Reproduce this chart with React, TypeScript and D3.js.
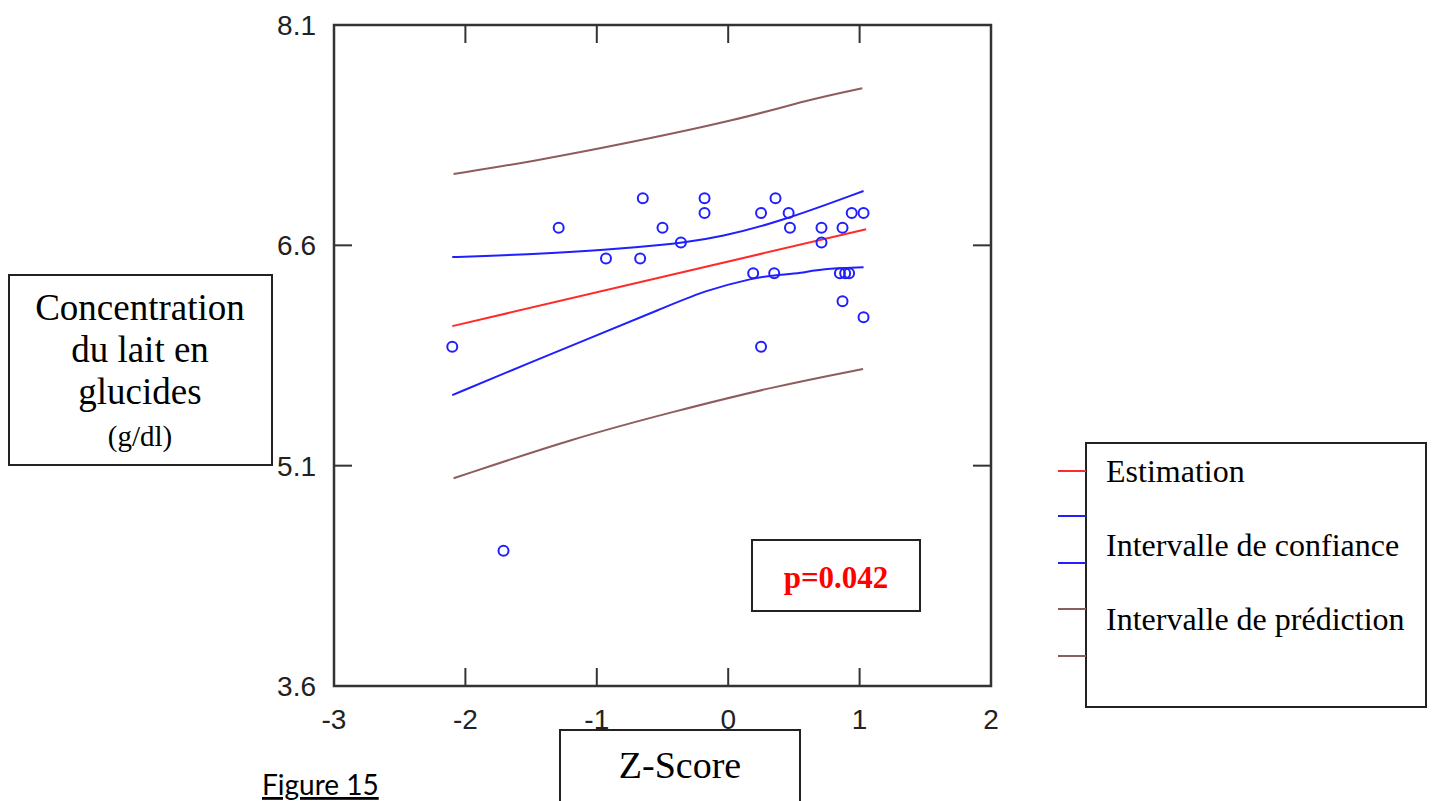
import React from "react";
import * as d3 from "d3";

// Observations
const zScores = [-2.10, -1.71, -1.29, -0.93, -0.67, -0.65, -0.50, -0.36, -0.18, -0.18, 0.19, 0.25, 0.25, 0.35, 0.36, 0.46, 0.47, 0.71, 0.71, 0.87, 0.85, 0.89, 0.92, 0.87, 0.94, 1.03, 1.03];
const glucides = [5.91, 4.52, 6.72, 6.51, 6.51, 6.92, 6.72, 6.62, 6.92, 6.82, 6.41, 6.82, 5.91, 6.41, 6.92, 6.82, 6.72, 6.72, 6.62, 6.72, 6.41, 6.41, 6.41, 6.22, 6.82, 6.82, 6.11];

// Estimation line
const estX = [-2.10, 1.05];
const estY = [6.05, 6.71];

// Confidence interval
const ciUpX = [-2.10, -1.85, -1.31, -0.96, -0.69, -0.52, -0.36, -0.06, 0.39, 1.03];
const ciUpY = [6.52, 6.527, 6.548, 6.568, 6.589, 6.602, 6.616, 6.657, 6.759, 6.97];
const ciLoX = [-2.10, -1.65, -0.34, -0.21, 0.19, 0.39, 0.55, 0.71, 1.03];
const ciLoY = [5.58, 5.75, 6.23, 6.28, 6.38, 6.40, 6.41, 6.44, 6.45];

// Prediction interval
const piUpX = [-2.09, -1.50, -0.77, 0.09, 0.60, 1.02];
const piUpY = [7.086, 7.169, 7.295, 7.458, 7.589, 7.669];
const piLoX = [-2.09, -1.175, -0.416, 0.344, 1.026];
const piLoY = [5.014, 5.287, 5.468, 5.638, 5.758];

const xTicks = [-3, -2, -1, 0, 1, 2];
const yTicks = [3.6, 5.1, 6.6, 8.1];
const legendItems = ["Estimation", "Intervalle de confiance", "Intervalle de prédiction"];
const yLabelLines = ["Concentration", "du lait en", "glucides"];
const yLabelUnit = "(g/dl)";
const xLabel = "Z-Score";
const pText = "p=0.042";
const figText = "Figure 15";

const RED = "#ff2a2a";
const BLUE = "#1f1fff";
const BROWN = "#8e5c5c";

export default function App() {
  const left = 334, right = 991, top = 25, bottom = 686;
  const x = d3.scaleLinear().domain([-3, 2]).range([left, right]);
  const y = d3.scaleLinear().domain([3.6, 8.1]).range([bottom, top]);
  const line = d3.line<[number, number]>().x(d => x(d[0])).y(d => y(d[1]));
  const smooth = d3.line<[number, number]>().x(d => x(d[0])).y(d => y(d[1])).curve(d3.curveBasis);
  const zip = (a: number[], b: number[]) => a.map((v, i) => [v, b[i]] as [number, number]);
  const tickLen = 18;
  const serif = "'Liberation Serif', 'Times New Roman', serif";
  const sans = "'Liberation Sans', Arial, sans-serif";
  const legendLineYs = [471, 516, 563, 609, 656];
  const legendColors = [RED, BLUE, BLUE, BROWN, BROWN];

  return (
    <svg width={1433} height={801} style={{ position: "absolute", left: 0, top: 0, display: "block", background: "#fff" }}>
      {/* curves */}
      <path d={smooth(zip(piUpX, piUpY)) || ""} fill="none" stroke={BROWN} strokeWidth={2} />
      <path d={smooth(zip(piLoX, piLoY)) || ""} fill="none" stroke={BROWN} strokeWidth={2} />
      <path d={smooth(zip(ciUpX, ciUpY)) || ""} fill="none" stroke={BLUE} strokeWidth={2} />
      <path d={smooth(zip(ciLoX, ciLoY)) || ""} fill="none" stroke={BLUE} strokeWidth={2} />
      <path d={line(zip(estX, estY)) || ""} fill="none" stroke={RED} strokeWidth={2} />
      {/* points */}
      {zScores.map((z, i) => (
        <circle key={i} cx={x(z)} cy={y(glucides[i])} r={5} fill="none" stroke={BLUE} strokeWidth={2} />
      ))}
      {/* frame */}
      <rect x={left} y={top} width={right - left} height={bottom - top} fill="none" stroke="#333" strokeWidth={2.5} />
      {xTicks.slice(1, -1).map(t => (
        <g key={"xt" + t}>
          <line x1={x(t)} x2={x(t)} y1={bottom} y2={bottom - tickLen} stroke="#333" strokeWidth={2} />
          <line x1={x(t)} x2={x(t)} y1={top} y2={top + tickLen} stroke="#333" strokeWidth={2} />
        </g>
      ))}
      {yTicks.slice(1, -1).map(t => (
        <g key={"yt" + t}>
          <line x1={left} x2={left + tickLen} y1={y(t)} y2={y(t)} stroke="#333" strokeWidth={2} />
          <line x1={right} x2={right - tickLen} y1={y(t)} y2={y(t)} stroke="#333" strokeWidth={2} />
        </g>
      ))}
      {xTicks.map(t => (
        <text key={"xl" + t} x={x(t)} y={729} textAnchor="middle" fontFamily={sans} fontSize={28} fill="#222">
          {t < 0 ? "-" + Math.abs(t) : String(t)}
        </text>
      ))}
      {yTicks.map(t => (
        <text key={"yl" + t} x={316} y={y(t) + 10} textAnchor="end" fontFamily={sans} fontSize={28} fill="#222">
          {t.toFixed(1)}
        </text>
      ))}
      {/* y label box */}
      <rect x={9} y={275} width={263} height={190} fill="#fff" stroke="#222" strokeWidth={2} />
      {yLabelLines.map((s, i) => (
        <text key={s} x={140} y={320 + i * 42} textAnchor="middle" fontFamily={serif} fontSize={37} fill="#000">{s}</text>
      ))}
      <text x={140} y={446} textAnchor="middle" fontFamily={serif} fontSize={29} fill="#000">{yLabelUnit}</text>
      {/* x label box */}
      <rect x={560} y={730} width={240} height={80} fill="#fff" stroke="#222" strokeWidth={2} />
      <text x={680} y={778} textAnchor="middle" fontFamily={serif} fontSize={38} fill="#000">{xLabel}</text>
      {/* figure caption */}
      <text x={262} y={795} fontFamily="Lato, 'Open Sans', sans-serif" fontSize={28} fill="#000" textDecoration="underline">{figText}</text>
      {/* p box */}
      <rect x={752} y={540} width={168} height={71} fill="#fff" stroke="#222" strokeWidth={2} />
      <text x={836} y={588} textAnchor="middle" fontFamily={serif} fontWeight="bold" fontSize={31} fill="#ff0000">{pText}</text>
      {/* legend */}
      <rect x={1086} y={443} width={340} height={264} fill="#fff" stroke="#222" strokeWidth={2} />
      {legendLineYs.map((ly, i) => (
        <line key={"ll" + i} x1={1058} x2={1086} y1={ly} y2={ly} stroke={legendColors[i]} strokeWidth={2} />
      ))}
      {legendItems.map((s, i) => (
        <text key={s} x={1106} y={482 + i * 74} fontFamily={serif} fontSize={32} fill="#000">{s}</text>
      ))}
    </svg>
  );
}
